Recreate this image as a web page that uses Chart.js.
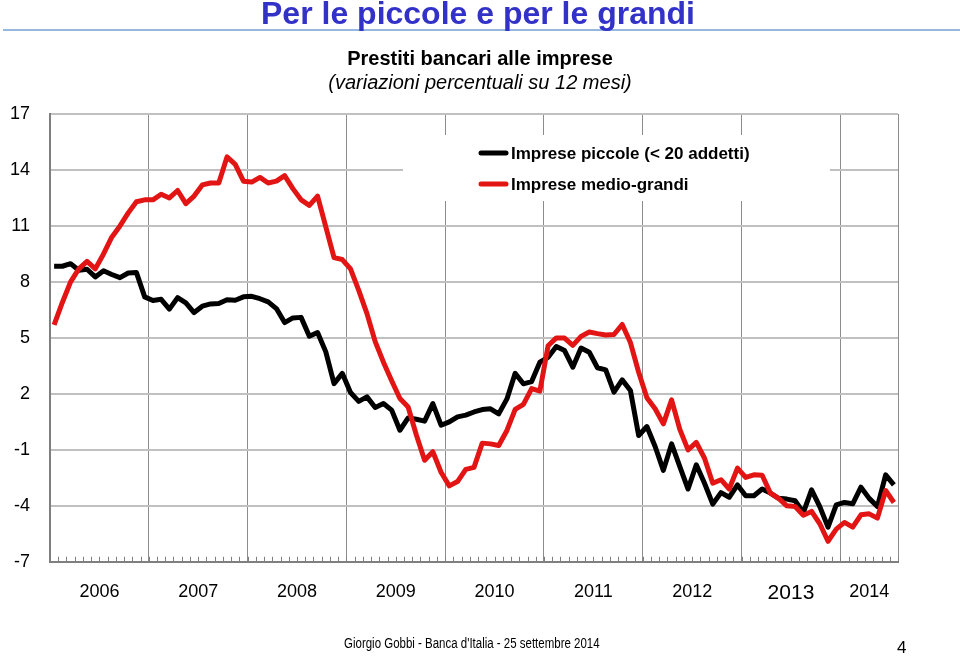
<!DOCTYPE html>
<html>

<head>
    <meta charset="utf-8">
    <title>Per le piccole e per le grandi</title>
    <style>
        body {
            margin: 0;
            background: #fff;
            font-family: "Liberation Sans", Arial, sans-serif;
        }

        .pagina {
            position: relative;
            width: 960px;
            height: 656px;
            overflow: hidden;
        }

        h1 {
            position: absolute;
            top: -3px;
            left: 0;
            width: 956px;
            margin: 0;
            text-align: center;
            font-size: 32px;
            line-height: 32px;
            color: #3232c8;
            z-index: 2;
        }

        .riga {
            position: absolute;
            top: 29px;
            left: 3px;
            right: 0;
            height: 2px;
            background: #95b9dd;
        }

        .chart-container {
            position: absolute;
            left: 0;
            top: 0;
            width: 960px;
            height: 656px;
        }

        .piede {
            position: absolute;
            top: 635px;
            left: 0;
            width: 944px;
            text-align: center;
            font-size: 14px;
        }

        .piede span {
            display: inline-block;
            transform: scaleX(0.82);
        }

        .numero {
            position: absolute;
            left: 897px;
            top: 638px;
            font-size: 17px;
        }
    </style>
</head>

<body>
    <div class="pagina">
        <h1>Per le piccole e per le grandi</h1>
        <div class="riga"></div>
        <div class="chart-container"><canvas id="prestitiChart"></canvas></div>
        <div class="piede"><span>Giorgio Gobbi - Banca d'Italia - 25 settembre 2014</span></div>
        <div class="numero">4</div>
    </div>

    <script src="https://cdn.jsdelivr.net/npm/chart.js"></script>

    <script>
        // anni sull'asse e numero di mesi per anno (gen 2006 - lug 2014)
        const anni = ['2006', '2007', '2008', '2009', '2010', '2011', '2012', '2013', '2014'];
        const mesiPerAnno = [12, 12, 12, 12, 12, 12, 12, 12, 7];

        // variazioni percentuali su 12 mesi, dati mensili
        const piccole = [
            8.84, 8.84, 8.98, 8.63, 8.68, 8.27, 8.6, 8.4, 8.23, 8.48, 8.5, 7.2,
            7.0, 7.07, 6.54, 7.16, 6.88, 6.36, 6.7, 6.82, 6.84, 7.04, 7.02, 7.2,
            7.23, 7.1, 6.93, 6.57, 5.82, 6.07, 6.1, 5.09, 5.29, 4.25, 2.55, 3.1,
            2.07, 1.6, 1.84, 1.27, 1.48, 1.13, 0.05, 0.71, 0.64, 0.54, 1.48, 0.32,
            0.5, 0.77, 0.86, 1.03, 1.16, 1.2, 0.93, 1.73, 3.1, 2.54, 2.66, 3.7,
            3.96, 4.54, 4.32, 3.43, 4.46, 4.23, 3.4, 3.29, 2.09, 2.75, 2.18, -0.23,
            0.25, -0.82, -2.1, -0.68, -1.9, -3.1, -1.8, -2.79, -3.91, -3.29, -3.54, -2.88,
            -3.46, -3.46, -3.1, -3.32, -3.6, -3.64, -3.73, -4.36, -3.14, -4.04, -5.14, -3.95,
            -3.82, -3.89, -3.0, -3.6, -4.04, -2.34, -2.88
        ];
        const medioGrandi = [
            5.7, 6.9, 8.0, 8.7, 9.1, 8.7, 9.5, 10.4, 11.0, 11.7, 12.3, 12.4,
            12.4, 12.7, 12.5, 12.9, 12.2, 12.6, 13.2, 13.3, 13.3, 14.7, 14.3, 13.4,
            13.35, 13.6, 13.3, 13.4, 13.7, 13.0, 12.4, 12.1, 12.6, 10.95, 9.3, 9.2,
            8.7, 7.55, 6.3, 4.8, 3.7, 2.7, 1.75, 1.3, -0.2, -1.56, -1.1, -2.2,
            -2.93, -2.7, -2.05, -1.94, -0.64, -0.68, -0.77, 0.04, 1.17, 1.44, 2.28, 2.15,
            4.58, 5.0, 4.99, 4.6, 5.08, 5.32, 5.23, 5.16, 5.18, 5.72, 4.75, 3.16,
            1.79, 1.2, 0.39, 1.68, 0.1, -1.0, -0.6, -1.45, -2.79, -2.6, -3.1, -1.98,
            -2.48, -2.34, -2.36, -3.32, -3.6, -4.0, -4.04, -4.5, -4.3, -4.96, -5.9, -5.25,
            -4.89, -5.14, -4.48, -4.43, -4.66, -3.18, -3.82
        ];

        const yMin = -7, yMax = 17, yPasso = 3;

        // confini tra gli anni (griglia verticale) e centri (etichette)
        const confini = [-0.5];
        const centri = [];
        let fine = -0.5;
        mesiPerAnno.forEach(n => {
            centri.push(fine + n / 2);
            fine += n;
            confini.push(fine);
        });

        const FONT = '"Liberation Sans", Arial, sans-serif';

        // legenda dentro l'area del grafico, su fondo bianco
        const legendaInterna = {
            id: 'legendaInterna',
            beforeDatasetsDraw(chart) {
                const ctx = chart.ctx;
                const area = chart.chartArea;
                ctx.save();

                // tacche mensili sull'asse orizzontale
                const x = chart.scales.x;
                ctx.strokeStyle = '#7f7f7f';
                ctx.lineWidth = 1;
                ctx.beginPath();
                for (let k = 0; k <= piccole.length; k++) {
                    const px = Math.round(x.getPixelForValue(k - 0.5)) + 0.5;
                    ctx.moveTo(px, area.bottom - 5);
                    ctx.lineTo(px, area.bottom);
                }
                ctx.stroke();

                ctx.fillStyle = '#fff';
                ctx.fillRect(403, 135, 427, 66);
                ctx.font = 'bold 17px ' + FONT;
                ctx.textBaseline = 'middle';
                chart.data.datasets.forEach((ds, i) => {
                    const y = 153 + i * 31;
                    ctx.strokeStyle = ds.borderColor;
                    ctx.lineWidth = 5;
                    ctx.lineCap = 'round';
                    ctx.beginPath();
                    ctx.moveTo(481, y);
                    ctx.lineTo(506, y);
                    ctx.stroke();
                    ctx.fillStyle = '#000';
                    ctx.fillText(ds.label, 511, y + 1);
                });
                ctx.restore();
            }
        };

        const ctx = document.getElementById('prestitiChart');
        new Chart(ctx, {
            type: 'line',
            data: {
                datasets: [{
                    label: 'Imprese piccole (< 20 addetti)',
                    data: piccole.map((v, i) => ({ x: i, y: v })),
                    borderColor: '#000000',
                    borderWidth: 5,
                    pointRadius: 0,
                    borderJoinStyle: 'round',
                    order: 1
                },
                {
                    label: 'Imprese medio-grandi',
                    data: medioGrandi.map((v, i) => ({ x: i, y: v })),
                    borderColor: '#e31414',
                    borderWidth: 5,
                    pointRadius: 0,
                    borderJoinStyle: 'round',
                    order: 0
                }]
            },
            options: {
                responsive: true,
                maintainAspectRatio: false,
                animation: false,
                layout: {
                    padding: { top: 47, bottom: 31, left: 0, right: 0 }
                },
                plugins: {
                    legend: { display: false },
                    tooltip: { enabled: false },
                    title: {
                        display: true,
                        text: 'Prestiti bancari alle imprese',
                        color: '#000',
                        font: { family: FONT, size: 20, weight: 'bold' },
                        padding: { top: 0, bottom: 0 }
                    },
                    subtitle: {
                        display: true,
                        text: '(variazioni percentuali su 12 mesi)',
                        color: '#000',
                        font: { family: FONT, size: 20, style: 'italic' },
                        padding: { top: 0, bottom: 19 }
                    }
                },
                scales: {
                    x: {
                        type: 'linear',
                        min: -0.5,
                        max: 102.5,
                        afterBuildTicks: s => { s.ticks = confini.map(v => ({ value: v })); },
                        ticks: { display: false },
                        grid: { color: '#8c8c8c', lineWidth: 1, drawTicks: false },
                        border: { color: '#7f7f7f', width: 2 }
                    },
                    xAnni: {
                        type: 'linear',
                        position: 'bottom',
                        min: -0.5,
                        max: 102.5,
                        afterBuildTicks: s => { s.ticks = centri.map(v => ({ value: v })); },
                        grid: { display: false, drawTicks: false },
                        border: { display: false },
                        ticks: {
                            padding: 19,
                            color: '#000',
                            maxRotation: 0,
                            autoSkip: false,
                            callback: (v, i) => anni[i],
                            font: c => ({ family: FONT, size: anni[c.index] === '2013' ? 21 : 18 })
                        }
                    },
                    y: {
                        min: yMin,
                        max: yMax,
                        afterFit: s => { s.width = 50; },
                        ticks: {
                            stepSize: yPasso,
                            padding: 20,
                            color: '#000',
                            font: { family: FONT, size: 18 }
                        },
                        grid: { color: '#c0c0c0', lineWidth: 2, drawTicks: false },
                        border: { color: '#7f7f7f', width: 2 }
                    },
                    yDestra: {
                        position: 'right',
                        afterFit: s => { s.width = 62; },
                        ticks: { display: false },
                        grid: { drawOnChartArea: false, drawTicks: false },
                        border: { display: false }
                    }
                }
            },
            plugins: [legendaInterna]
        });
    </script>
</body>

</html>
